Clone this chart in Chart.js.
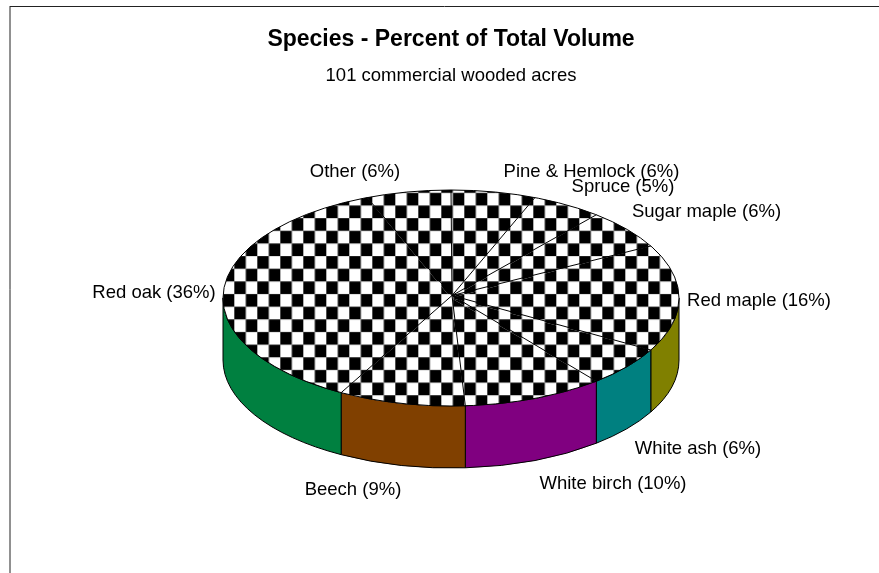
<!DOCTYPE html>
<html>
<head>
<meta charset="utf-8">
<style>
  html, body { margin: 0; padding: 0; background: #fff; }
  #wrap { width: 879px; height: 573px; }
</style>
<script src="https://cdn.jsdelivr.net/npm/chart.js@4"></script>
</head>
<body>
<div id="wrap"><canvas id="pie" width="879" height="573"></canvas></div>
<script>
const categories = ['Pine & Hemlock', 'Spruce', 'Sugar maple', 'Red maple', 'White ash',
                    'White birch', 'Beech', 'Red oak', 'Other'];
const percentages = [6, 5, 6, 16, 6, 10, 9, 36, 6];
// Only the slices facing the viewer show a wall.
const wallColors = [null, null, null, '#808000', '#008080',
                    '#800080', '#804000', '#008040', null];
const chartTitle = 'Species - Percent of Total Volume';
const chartSubtitle = '101 commercial wooded acres';

// Centre of each slice label, in canvas pixels.
const labelCentres = [[591.5, 172], [623, 187], [706.5, 212], [759, 301], [698, 449],
                      [613, 484], [353, 490], [154, 293], [355, 172]];

// The disc is tilted by squashing the round pie around its centre.
const disc = { cx: 451, cy: 298, hubX: 452, hubY: 295.5, squash: 108 / 228, depth: 62 };
const checkerCell = { w: 11.5, h: 12.65, dx: 4.3, dy: 3.1 };
const FONT = '"Liberation Sans", Arial, sans-serif';

function checkerPattern() {
  const tile = document.createElement('canvas');
  tile.width = Math.round(checkerCell.w * 20);
  tile.height = Math.round(checkerCell.h * 20);
  const c = tile.getContext('2d');
  c.fillStyle = '#fff';
  c.fillRect(0, 0, tile.width, tile.height);
  c.fillStyle = '#000';
  for (let row = 0; row < 20; row++) {
    for (let col = 0; col < 20; col++) {
      if ((row + col) % 2 === 0) {
        c.fillRect(col * checkerCell.w, row * checkerCell.h, checkerCell.w, checkerCell.h);
      }
    }
  }
  return c.createPattern(tile, 'repeat');
}

const tiltPlugin = {
  id: 'tiltedDisc',
  beforeDatasetsDraw(chart) {
    const slices = chart.getDatasetMeta(0).data;
    const ctx = chart.ctx;
    // Side wall first, so the top face sits over it.
    slices.forEach((el, i) => {
      const a0 = Math.max(el.startAngle, 0);
      const a1 = Math.min(el.endAngle, Math.PI);
      if (a1 <= a0) return;
      const r = el.outerRadius;
      const ry = r * disc.squash;
      ctx.beginPath();
      ctx.ellipse(disc.cx, disc.cy, r, ry, 0, a0, a1);
      ctx.ellipse(disc.cx, disc.cy + disc.depth, r, ry, 0, a1, a0, true);
      ctx.closePath();
      ctx.fillStyle = wallColors[i];
      ctx.fill();
      ctx.strokeStyle = '#000';
      ctx.lineWidth = 1;
      ctx.stroke();
    });
    ctx.save();
    ctx.translate(disc.cx, disc.cy);
    ctx.scale(1, disc.squash);
    ctx.translate(-slices[0].x, -slices[0].y);
    // Keep the checks square-on to the page rather than squashed with the disc.
    const toPage = ctx.getTransform().inverse();
    chart.data.datasets[0].backgroundColor.setTransform(toPage.translate(checkerCell.dx, checkerCell.dy));
  },
  afterDatasetsDraw(chart) {
    const ctx = chart.ctx;
    ctx.restore();
    const slices = chart.getDatasetMeta(0).data;
    const r = slices[0].outerRadius;
    const ry = r * disc.squash;
    ctx.strokeStyle = '#000';
    ctx.lineWidth = 1;
    slices.forEach((el) => {
      ctx.beginPath();
      ctx.moveTo(disc.hubX, disc.hubY);
      ctx.lineTo(disc.cx + r * Math.cos(el.startAngle), disc.cy + ry * Math.sin(el.startAngle));
      ctx.stroke();
    });
    ctx.beginPath();
    ctx.ellipse(disc.cx, disc.cy, r, ry, 0, 0, Math.PI * 2);
    ctx.stroke();

    ctx.fillStyle = '#000';
    ctx.font = '18.5px ' + FONT;
    ctx.textAlign = 'center';
    ctx.textBaseline = 'middle';
    categories.forEach((name, i) => {
      ctx.fillText(`${name} (${percentages[i]}%)`, labelCentres[i][0], labelCentres[i][1]);
    });

    // Frame along the top and left of the chart.
    ctx.beginPath();
    ctx.moveTo(10, 573);
    ctx.lineTo(10, 6);
    ctx.moveTo(10, 6.5);
    ctx.lineTo(879, 6.5);
    ctx.strokeStyle = '#222';
    ctx.stroke();
  }
};

new Chart(document.getElementById('pie'), {
  type: 'pie',
  data: {
    labels: categories,
    datasets: [{
      data: percentages,
      backgroundColor: checkerPattern(),
      borderWidth: 0
    }]
  },
  options: {
    responsive: false,
    animation: false,
    layout: { padding: { left: 223, right: 200, top: 26, bottom: 0 } },
    plugins: {
      legend: { display: false },
      tooltip: { enabled: false },
      title: {
        display: true, text: chartTitle, color: '#000',
        font: { family: FONT, size: 23, weight: 'bold' },
        padding: { top: 0, bottom: 11.3 }
      },
      subtitle: {
        display: true, text: chartSubtitle, color: '#000',
        font: { family: FONT, size: 18.5, weight: 'normal' },
        padding: { top: 0, bottom: 6 }
      }
    }
  },
  plugins: [tiltPlugin]
});
</script>
</body>
</html>
